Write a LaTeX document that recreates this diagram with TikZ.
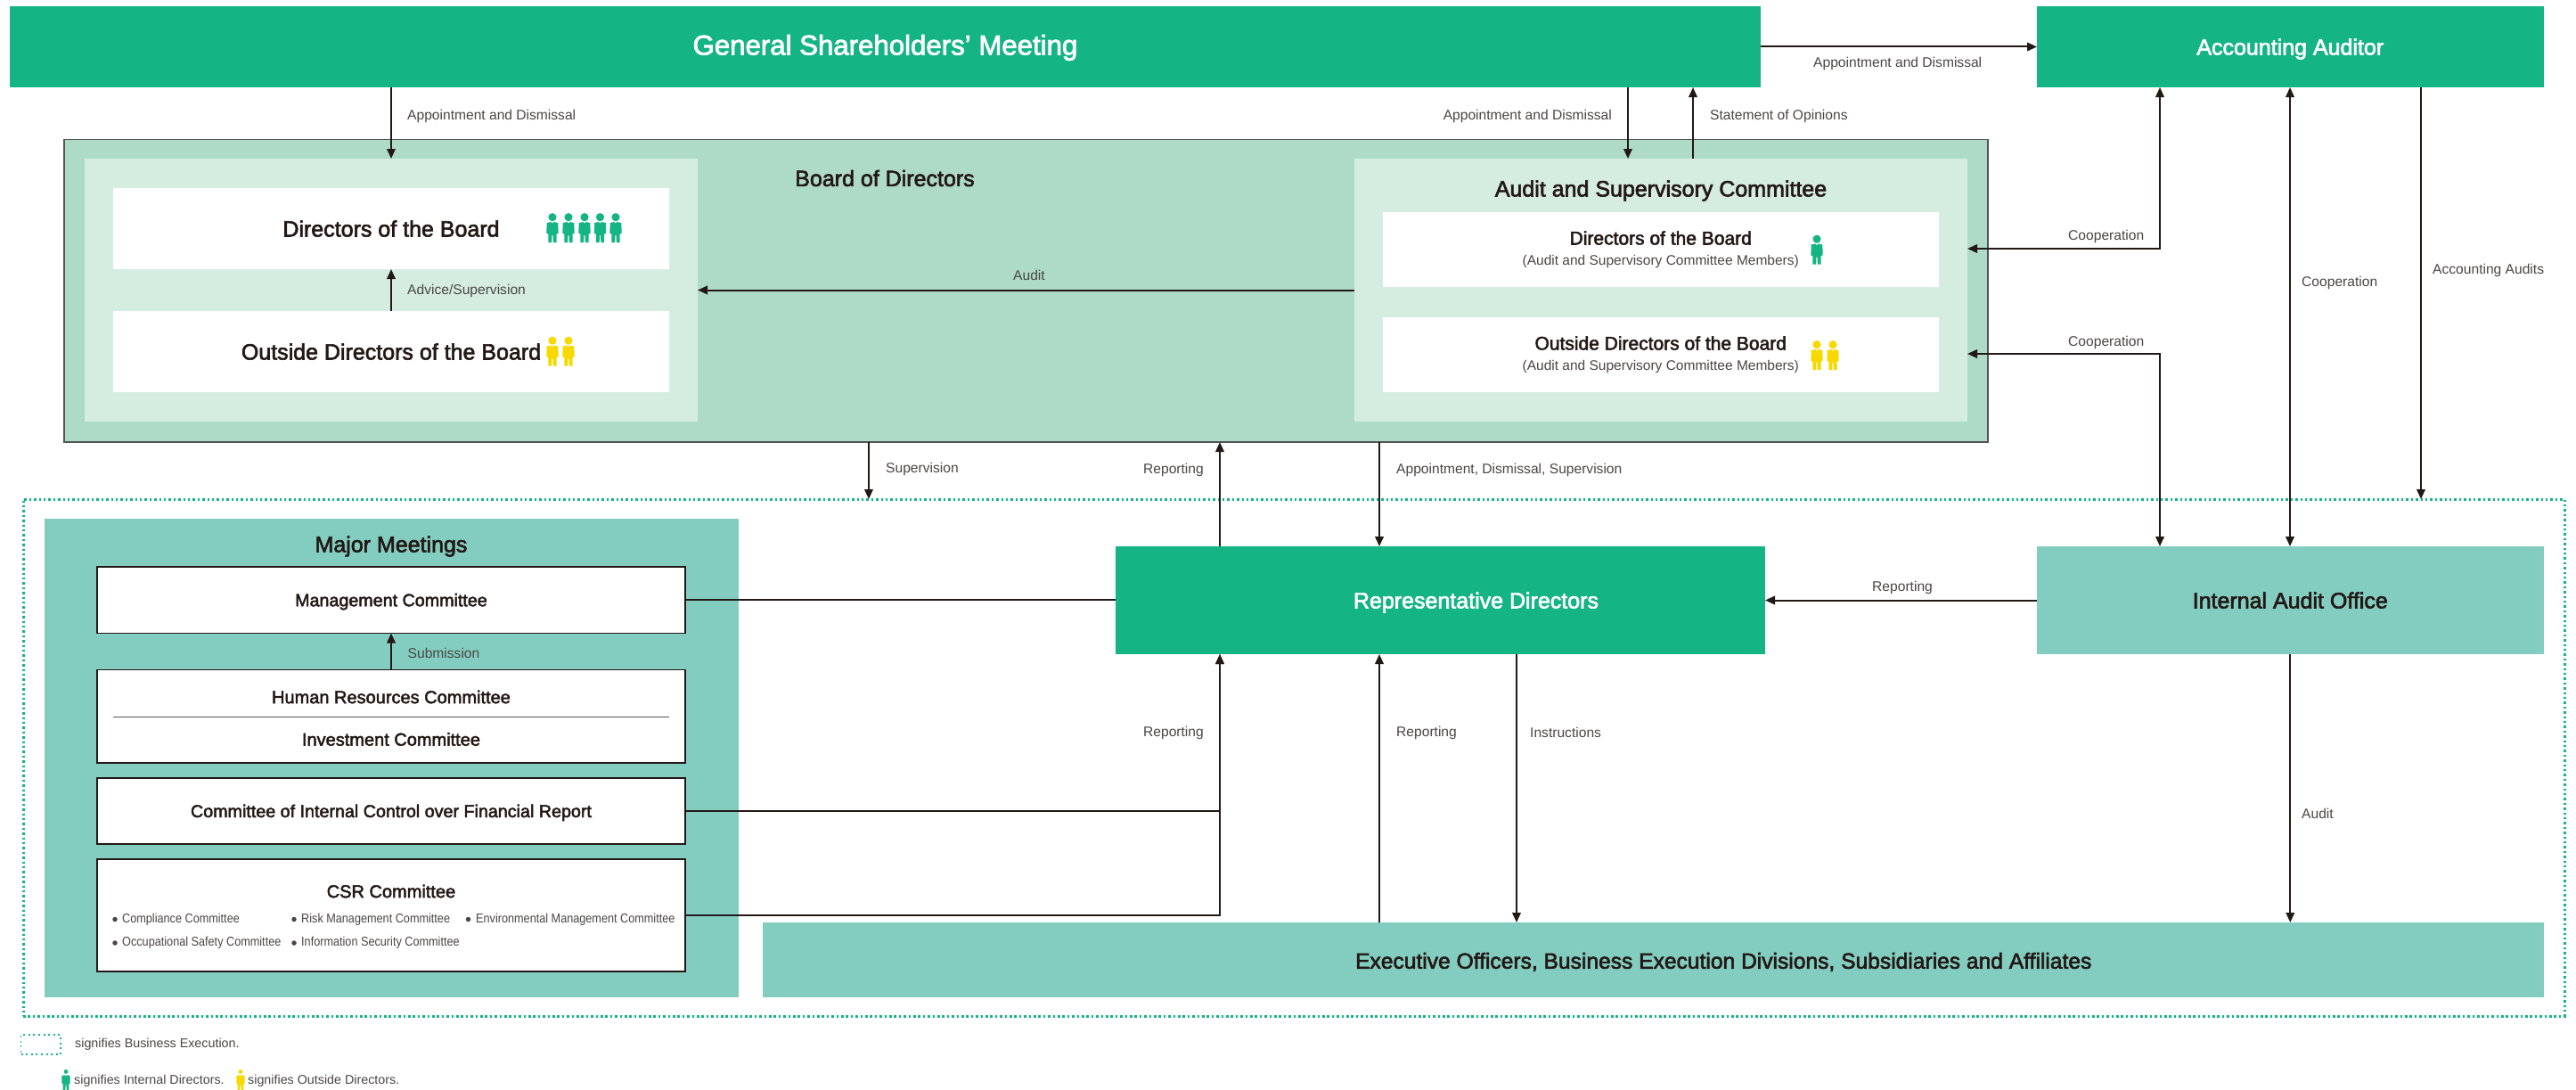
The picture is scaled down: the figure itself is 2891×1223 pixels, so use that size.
\documentclass[tikz,border=0pt]{standalone}
\usepackage{fontspec}
\usetikzlibrary{arrows.meta}
\setmainfont{Liberation Sans}
\newfontfamily\medfam[FakeBold=2.4]{Liberation Sans}
\newfontfamily\condfam[FakeStretch=0.88]{Liberation Sans}
\definecolor{cgreen}{HTML}{14B485}
\definecolor{cteal}{HTML}{82CDC0}
\definecolor{cboard}{HTML}{AEDBC7}
\definecolor{cinner}{HTML}{D5ECE1}
\definecolor{cyellow}{HTML}{F7D900}
\definecolor{cdark}{HTML}{231815}
\definecolor{cgray}{HTML}{4A4645}
\definecolor{cedge}{HTML}{555555}
\newcommand\fs[1]{\fontsize{#1}{#1}\selectfont}
\newcommand\mybox[7]{\node[#6,inner sep=0pt,outer sep=0pt,minimum width={(#4-#2)*1pt},minimum height={(#5-#3)*1pt}] (#1) at ({(#2+#4)/2},{(#3+#5)/2}) {#7};}
\newcommand\personicon[4]{\begin{scope}[shift={(#1,#2)},scale=#4]
\fill[#3] (0,4.7) circle ({4.6*#4});
\fill[#3] (-6.4,11) -- (-1.3,10) -- (0,12) -- (1.3,10) -- (6.4,11) -- (6.6,23) -- (4.7,23.5) -- (4.7,33) -- (0.8,33) -- (0.6,25) -- (-0.6,25) -- (-0.8,33) -- (-4.7,33) -- (-4.7,23.5) -- (-6.6,23) -- cycle;
\end{scope}}
\tikzset{
 lab/.style={font=\fs{15.6},text=cgray,inner sep=0pt,anchor=west},
 labr/.style={lab,anchor=east},
 labc/.style={lab,anchor=center},
 lgt/.style={lab,font=\fs{14.3}},
 ttl/.style={font=\medfam\fs{25},text=cdark,inner sep=0pt},
 sub/.style={font=\medfam\fs{20},text=cdark,inner sep=0pt},
 mini/.style={font=\condfam\fs{14.4},text=cgray,inner sep=0pt,anchor=west},
 bullet/.style={circle,fill=cgray,inner sep=0pt,minimum size=5.5pt},
 gbox/.style={fill=cgreen,text=white,font=\medfam\fs{25},text height=18pt,text depth=0pt},
 tbox/.style={fill=cteal,text=cdark,font=\medfam\fs{25},text height=18pt,text depth=0pt},
 wbox/.style={fill=white,text=cdark,font=\medfam\fs{25},text height=18pt,text depth=0pt},
 cbox/.style={fill=white,draw=cdark,line width=1.4pt,text=cdark,font=\medfam\fs{19.7},text height=14pt,text depth=0pt},
 conn/.style={draw=cdark,line width=2pt,-{Triangle[length=11pt,width=9.5pt]}},
 conb/.style={draw=cdark,line width=2pt,{Triangle[length=11pt,width=9.5pt]}-{Triangle[length=11pt,width=9.5pt]}},
 conp/.style={draw=cdark,line width=2pt},
}
\begin{document}
\begin{tikzpicture}[x=1pt,y=-1pt]
\path[use as bounding box,fill=white] (0,0) rectangle (2891,1223);
% named guide coordinates
\coordinate (xa) at (439,0);
\coordinate (xs) at (975,0);
\coordinate (xr) at (1369,0);
\coordinate (xm) at (1548,0);
\coordinate (xi) at (1702,0);
\coordinate (xb) at (1827,0);
\coordinate (xc) at (1900,0);
\coordinate (xd) at (2570,0);
\coordinate (xe) at (2717,0);
\coordinate (c1) at (2424,279);
\coordinate (c2) at (2424,397);
% business execution frame
\mybox{biz}{26}{560}{2878}{1140}{draw=cgreen,line width=3pt,dash pattern=on 2.5pt off 2.9pt}{}
% top row
\mybox{gsm}{11}{7}{1976}{98}{gbox}{\fs{31.2}General Shareholders’ Meeting}
\mybox{acc}{2286}{7}{2854.5}{98}{gbox}{Accounting Auditor}
% board
\mybox{board}{72}{156.5}{2231}{496}{fill=cboard,draw=cedge,line width=1.2pt}{}
\mybox{lin}{95}{178}{783}{473}{fill=cinner}{}
\mybox{ain}{1519.5}{178}{2208}{473}{fill=cinner}{}
\mybox{ldir}{127}{211}{751}{302}{wbox}{Directors of the Board}
\mybox{odir}{127}{349}{751}{440}{wbox}{Outside Directors of the Board}
\mybox{adir}{1552}{238}{2175.5}{322}{fill=white,align=center,text=cdark}{{\medfam\fs{21}Directors of the Board}\\[11pt]{\fs{15.5}\color{cgray}(Audit and Supervisory Committee Members)}}
\mybox{aodir}{1552}{356}{2175.5}{440}{fill=white,align=center,text=cdark}{{\medfam\fs{21}Outside Directors of the Board}\\[11pt]{\fs{15.5}\color{cgray}(Audit and Supervisory Committee Members)}}
\node[ttl,anchor=center] (tboard) at (993,200) {Board of Directors};
\node[ttl,anchor=center] (taudit) at (1864,214) {Audit and Supervisory Committee};
% execution row
\mybox{rep}{1252}{613}{1981}{734}{gbox}{\hspace*{80pt}Representative Directors}
\mybox{iao}{2286}{613}{2854.5}{734}{tbox}{Internal Audit Office}
\mybox{exec}{856}{1035}{2854.5}{1118.5}{tbox,text height=20pt}{\hspace*{158pt}\fs{24.6}Executive Officers, Business Execution Divisions, Subsidiaries and Affiliates}
% major meetings
\mybox{major}{50}{582}{829}{1118.5}{fill=cteal}{}
\node[ttl,anchor=center] (tmajor) at (439,613) {Major Meetings};
\mybox{mgmt}{109}{636}{769}{710.5}{cbox}{Management Committee}
\mybox{hr}{109}{751.5}{769}{856}{cbox}{}
\node[sub,anchor=center] (thr) at (439,782) {Human Resources Committee};
\node[sub,anchor=center] (tinv) at (439,829.5) {Investment Committee};
\coordinate (hrl) at (127,804);
\coordinate (hrr) at (751,804);
\draw[cedge,line width=1pt] (hrl) -- (hrr);
\mybox{cic}{109}{873}{769}{947}{cbox,line width=2pt}{Committee of Internal Control over Financial Report}
\mybox{csr}{109}{964}{769}{1090}{cbox,line width=2pt}{}
\node[sub,anchor=center] (tcsr) at (439,1000) {CSR Committee};
\node[bullet] (b1) at (129,1031.5) {};
\node[mini] (m1) at (137,1031.5) {Compliance Committee};
\node[bullet] (b2) at (330,1031.5) {};
\node[mini] (m2) at (338,1031.5) {Risk Management Committee};
\node[bullet] (b3) at (525.5,1031.5) {};
\node[mini] (m3) at (534,1031.5) {Environmental Management Committee};
\node[bullet] (b4) at (129,1058) {};
\node[mini] (m4) at (137,1058) {Occupational Safety Committee};
\node[bullet] (b5) at (330,1058) {};
\node[mini] (m5) at (338,1058) {Information Security Committee};
% icons
\personicon{620}{239}{cgreen}{1}\personicon{638}{239}{cgreen}{1}\personicon{656}{239}{cgreen}{1}\personicon{673.5}{239}{cgreen}{1}\personicon{691}{239}{cgreen}{1}
\personicon{620}{377.5}{cyellow}{1}\personicon{638}{377.5}{cyellow}{1}
\personicon{2039}{263.5}{cgreen}{1}
\personicon{2039}{382}{cyellow}{1}\personicon{2057}{382}{cyellow}{1}
% connectors
\draw[conn] (gsm.south -| xa) -- (lin.north -| xa);
\draw[conn] (odir.north) -- (ldir.south);
\draw[conn] (ain.west) -- (lin.east);
\draw[conn] (gsm.south -| xb) -- (ain.north -| xb);
\draw[conn] (ain.north -| xc) -- (gsm.south -| xc);
\draw[conn] (gsm.east) -- (acc.west);
\draw[conb] (ain.east |- c1) -- (c1) -- (acc.south -| c1);
\draw[conb] (ain.east |- c2) -- (c2) -- (iao.north -| c2);
\draw[conb] (acc.south -| xd) -- (iao.north -| xd);
\draw[conn] (acc.south -| xe) -- (biz.north -| xe);
\draw[conn] (board.south -| xs) -- (biz.north -| xs);
\draw[conn] (rep.north -| xr) -- (board.south -| xr);
\draw[conn] (board.south -| xm) -- (rep.north -| xm);
\draw[conn] (iao.west) -- (rep.east);
\draw[conp] (mgmt.east) -- (mgmt.east -| rep.west);
\draw[conn] (hr.north) -- (mgmt.south);
\draw[conn] (cic.east) -- (cic.east -| xr) -- (rep.south -| xr);
\draw[conn] (csr.east) -- (csr.east -| xr) -- (rep.south -| xr);
\draw[conn] (exec.north -| xm) -- (rep.south -| xm);
\draw[conn] (rep.south -| xi) -- (exec.north -| xi);
\draw[conn] (iao.south) -- (exec.north -| iao.south);
% labels
\node[lab] (l1) at (457,130.5) {Appointment and Dismissal};
\node[lab] (l2) at (457,326) {Advice/Supervision};
\node[lab] (l3) at (994,526) {Supervision};
\node[labr] (l4) at (1351,527) {Reporting};
\node[lab] (l5) at (1567,527) {Appointment, Dismissal, Supervision};
\node[labr] (l6) at (1351,822) {Reporting};
\node[lab] (l7) at (1567,822) {Reporting};
\node[lab] (l8) at (1717,822) {Instructions};
\node[lab] (l9) at (2101,659.5) {Reporting};
\node[lab] (l10) at (2583,913) {Audit};
\node[lab] (l11) at (2035,71.5) {Appointment and Dismissal};
\node[lab] (l12) at (1919,130) {Statement of Opinions};
\node[labr] (l13) at (1809,130.5) {Appointment and Dismissal};
\node[lab] (l14) at (2321,265) {Cooperation};
\node[lab] (l15) at (2321,384) {Cooperation};
\node[lab] (l16) at (2583,317) {Cooperation};
\node[lab] (l17) at (2730,303) {Accounting Audits};
\node[labc] (l18) at (1155,308.5) {Audit};
\node[lab] (l19) at (457.5,733) {Submission};
% legend
\mybox{lgd}{23.5}{1161}{68}{1183}{draw=cgreen,line width=1.8pt,dash pattern=on 2pt off 3.6pt}{}
\node[lgt] (l20) at (84,1172) {signifies Business Execution.};
\personicon{74}{1199}{cgreen}{0.72}
\node[lgt] (l21) at (83,1213) {signifies Internal Directors.};
\personicon{270}{1199}{cyellow}{0.72}
\node[lgt] (l22) at (278,1213) {signifies Outside Directors.};
\end{tikzpicture}
\end{document}
